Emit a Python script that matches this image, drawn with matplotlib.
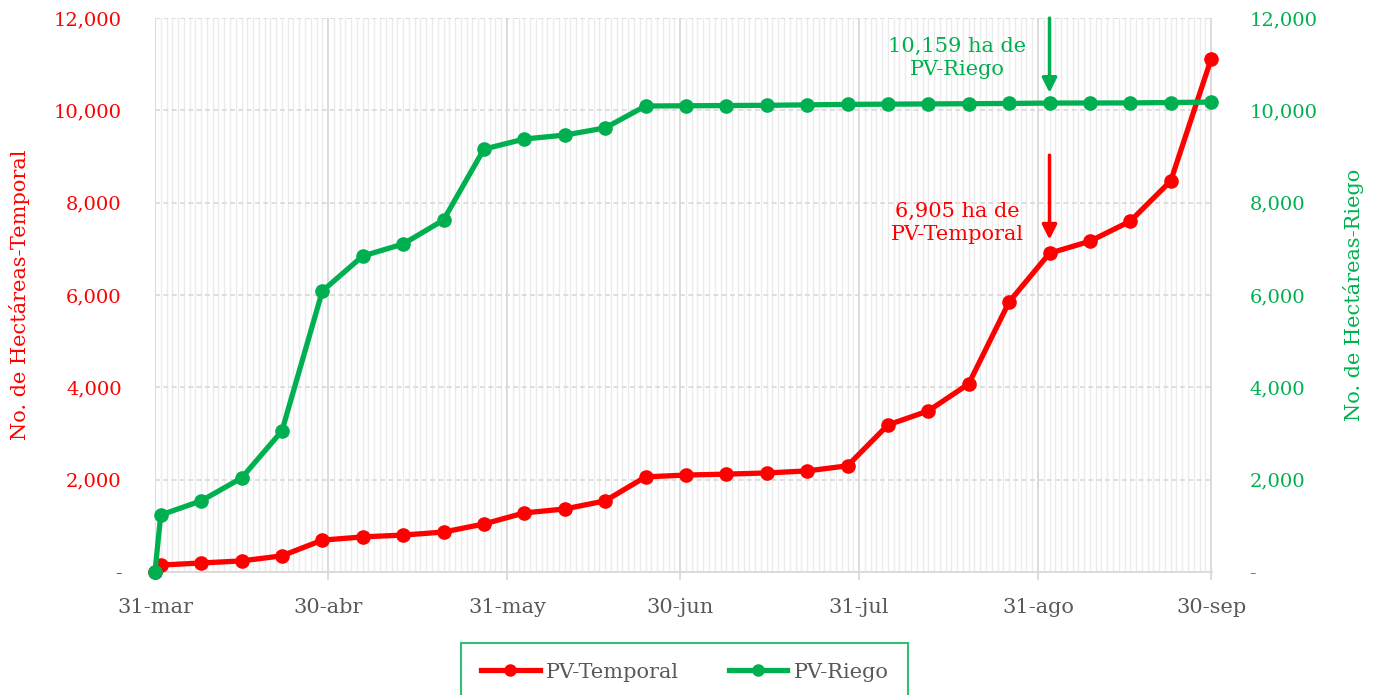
import numpy as np
import pandas as pd
import matplotlib
matplotlib.use("Agg")
import matplotlib.pyplot as plt
import matplotlib.dates as mdates
from matplotlib.ticker import FuncFormatter, MultipleLocator

# %% Data
dates = pd.to_datetime(["2020-03-31"]).append(pd.date_range("2020-04-01", "2020-09-30", freq="7D"))

temporal = [0, 150, 195, 240, 350, 690, 760, 800, 865, 1040, 1280, 1365, 1540,
            2060, 2100, 2120, 2145, 2190, 2300, 3185, 3490, 4075, 5850, 6905,
            7165, 7600, 8470, 11110]
riego = [0, 1235, 1540, 2035, 3055, 6085, 6845, 7105, 7625, 9160, 9380, 9465, 9620,
         10095, 10100, 10105, 10110, 10120, 10130, 10135, 10140, 10145, 10150, 10159,
         10160, 10162, 10170, 10180]

tick_dates = pd.to_datetime(["2020-03-31", "2020-04-30", "2020-05-31", "2020-06-30",
                             "2020-07-31", "2020-08-31", "2020-09-30"])
tick_labels = ["31-mar", "30-abr", "31-may", "30-jun", "31-jul", "31-ago", "30-sep"]

note_date = pd.Timestamp("2020-09-02")
note_riego = "10,159 ha de\nPV-Riego"
note_temporal = "6,905 ha de\nPV-Temporal"

RED = "#FF0000"
GREEN = "#00B050"
GRAY = "#595959"

plt.rcParams['font.family'] = ['DejaVu Serif']

fig = plt.figure(figsize=(13.75, 6.95), dpi=100)
ax = fig.add_axes([0.1127, 0.177, 0.7688, 0.797])
ax2 = ax.twinx()

# %% Grid
ax.set_xlim(dates[0], tick_dates[-1] + pd.Timedelta(hours=4))
ax.set_ylim(0, 12000)
ax2.set_ylim(0, 12000)
ax.xaxis.set_minor_locator(mdates.DayLocator())
ax.set_xticks(tick_dates)
ax.set_xticklabels(tick_labels)
ax.grid(True, which='minor', axis='x', color='#ebebeb', linewidth=1.0)
ax.grid(True, which='major', axis='x', color='#d9d9d9', linewidth=1.3)
ax.grid(True, which='major', axis='y', color='#d9d9d9', linewidth=1.2, linestyle=(0, (3, 2)))
ax.set_axisbelow(True)

# %% Lines
l1, = ax2.plot(dates, temporal, color=RED, linewidth=3.8, marker='o', markersize=9.5,
               label='PV-Temporal', zorder=3, clip_on=False)
l2, = ax2.plot(dates, riego, color=GREEN, linewidth=3.8, marker='o', markersize=9.5,
               label='PV-Riego', zorder=4, clip_on=False)

# %% Axes styling
fmt = FuncFormatter(lambda v, p: '-' if v == 0 else f'{v:,.0f}')
for a in (ax, ax2):
    a.yaxis.set_major_locator(MultipleLocator(2000))
    a.yaxis.set_major_formatter(fmt)
    for s in a.spines.values():
        s.set_visible(False)
ax.spines['bottom'].set_visible(True)
ax.spines['bottom'].set_color('#d9d9d9')
ax.spines['bottom'].set_linewidth(1.3)

ax.tick_params(axis='y', length=0, pad=24, labelsize=14, labelcolor=RED)
ax2.tick_params(axis='y', length=0, pad=27, labelsize=14, labelcolor=GREEN)
ax.tick_params(axis='x', which='major', length=6, width=1.3, color='#d9d9d9',
               pad=13, labelsize=15, labelcolor=GRAY)
ax.tick_params(axis='x', which='minor', length=0)

ax.set_ylabel('No. de Hectáreas-Temporal', color=RED, fontsize=15, labelpad=17)
ax2.set_ylabel('No. de Hectáreas-Riego', color=GREEN, fontsize=15, labelpad=18)

# %% Annotations
ax2.annotate('', xy=(note_date, 10380), xytext=(note_date, 12000),
             arrowprops=dict(arrowstyle='-|>', color=GREEN, lw=2.5, mutation_scale=22,
                             shrinkA=0, shrinkB=0))
ax2.text(note_date - pd.Timedelta(days=16), 11130, note_riego, color=GREEN,
         fontsize=15, ha='center', va='center', linespacing=1.3)
ax2.annotate('', xy=(note_date, 7200), xytext=(note_date, 9030),
             arrowprops=dict(arrowstyle='-|>', color=RED, lw=2.5, mutation_scale=22,
                             shrinkA=0, shrinkB=0))
ax2.text(note_date - pd.Timedelta(days=16), 7560, note_temporal, color=RED,
         fontsize=15, ha='center', va='center', linespacing=1.3)

# %% Legend
leg = fig.legend(handles=[l1, l2], loc='upper center', bbox_to_anchor=(0.498, 0.075),
                 ncol=2, frameon=True, fancybox=False, fontsize=15, handlelength=2.8,
                 handletextpad=0.3, columnspacing=2.4, borderpad=0.95, borderaxespad=0,
                 labelcolor=GRAY)
leg.get_frame().set_edgecolor(GREEN)
leg.get_frame().set_linewidth(1.5)
for h in leg.legend_handles:
    h.set_markersize(8)

fig.savefig('out.png', dpi=100)
